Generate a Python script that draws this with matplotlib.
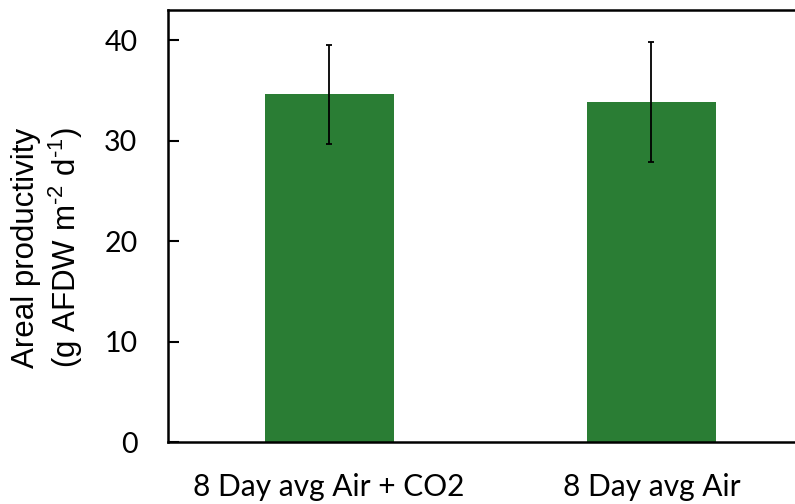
import matplotlib.pyplot as plt

plt.rcParams['font.family'] = ['Lato', 'DejaVu Sans']

labels = ['8 Day avg Air + CO2', '8 Day avg Air']
means = [34.6, 33.85]
errs = [4.9, 6.0]
yticks = [0, 10, 20, 30, 40]

fig = plt.figure(figsize=(7.95, 5.04), dpi=100)
ax = fig.add_axes([0.2113, 0.123, 0.8107, 0.857])

ax.bar(range(len(labels)), means, width=0.4, color='#2a7d34',
       yerr=errs, error_kw=dict(ecolor='black', elinewidth=1.3, capsize=2.2, capthick=1.3))

ax.set_xlim(-0.5, 1.5)
ax.set_ylim(0, 43)
ax.set_yticks(yticks)
ax.set_yticklabels([str(t) for t in yticks], fontsize=20.5)
ax.set_xticks(range(len(labels)))
ax.set_xticklabels(labels, fontsize=21.5)
ax.tick_params(axis='y', direction='in', length=8, width=1.5, pad=22)
ax.tick_params(axis='x', length=0, pad=22)

for s in ax.spines.values():
    s.set_linewidth(1.8)

# two-line y label in Arial-style font
plt.rcParams['mathtext.fontset'] = 'custom'
plt.rcParams['mathtext.rm'] = 'Liberation Sans'
fig.text(48 / 795, 1 - 248 / 504,
         'Areal productivity\n(g AFDW m$^{\\mathregular{\\text{-}2}}$ d$^{\\mathregular{\\text{-}1}}$)',
         family='Liberation Sans', fontsize=22.5, rotation=90, ha='center', va='center',
         linespacing=1.2, multialignment='center')

fig.savefig('out.png', dpi=100)
